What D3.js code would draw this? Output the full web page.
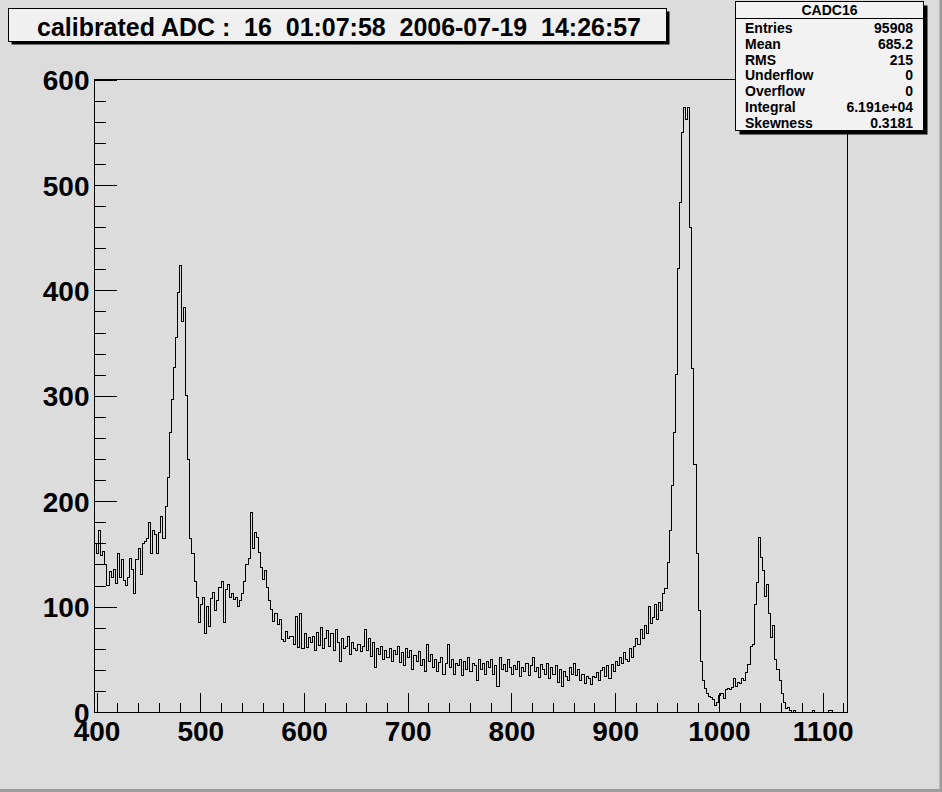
<!DOCTYPE html>
<html>
<head>
<meta charset="utf-8">
<script src="https://cdn.jsdelivr.net/npm/d3@7"></script>
<style>
  html, body { margin: 0; padding: 0; background: #dcdcdc; }
  svg { display: block; }
  text { font-family: "Liberation Sans", Arial, Helvetica, sans-serif; font-weight: bold; fill: #000; }
</style>
</head>
<body>
<svg id="chart" width="942" height="792"></svg>
<script>
// ---------------- data ----------------
const binStart = 398;
const binWidth = 2;
const counts = [
  160,150,172,148,152,140,120,133,128,135,122,150,128,145,125,120,128,146,135,112,
  145,155,130,160,162,165,180,150,172,168,150,170,185,165,195,222,265,296,327,355,
  398,424,370,384,300,240,165,150,124,109,85,102,109,74,100,81,108,113,96,106,
  118,124,85,116,121,109,112,107,109,100,106,112,124,140,146,189,155,170,166,151,
  137,126,134,118,106,97,86,93,83,88,69,67,76,70,72,72,64,91,61,93,
  60,74,61,71,66,72,58,75,63,80,60,70,77,62,74,58,78,66,48,70,
  60,62,72,55,66,60,58,64,57,62,78,58,70,53,66,42,60,55,62,50,
  58,52,60,48,58,55,62,47,56,44,60,52,58,40,54,48,57,44,50,38,
  64,48,55,42,50,38,47,52,36,46,64,42,50,36,46,44,50,35,48,40,
  52,38,46,44,30,50,40,46,36,48,42,50,36,44,24,52,40,45,38,50,
  42,36,44,40,48,34,42,38,46,35,44,52,38,42,33,45,40,36,46,32,
  42,36,44,28,40,24,38,34,30,42,36,46,35,40,30,36,27,34,32,26,
  34,33,37,30,39,42,34,44,32,45,38,48,44,52,46,56,50,48,60,52,
  62,70,64,78,70,82,74,100,84,90,102,88,104,96,112,117,142,172,215,265,
  320,421,483,550,573,562,573,460,326,235,150,96,48,30,22,18,15,14,12,6,
  9,16,18,13,21,22,21,23,32,24,28,27,32,30,37,45,62,64,102,123,
  166,147,134,110,121,93,71,82,50,40,30,18,9,3,4,1,0,1,0,0,
  0,0,0,0,0,0,1,0,0,0,0,0,0,0,1,1,0,0,0,0,0,0,0
];
const xDomain = [398, 1124];
const yDomain = [0, 600];
const xMajorTicks = [400, 500, 600, 700, 800, 900, 1000, 1100];
const xMinorTicks = d3.range(400, 1121, 20);
const yMajorTicks = [0, 100, 200, 300, 400, 500, 600];
const yMinorTicks = d3.range(0, 601, 20);
const titleText = "calibrated ADC :  16  01:07:58  2006-07-19  14:26:57";
const statsName = "CADC16";
const statsLabels = ["Entries", "Mean", "RMS", "Underflow", "Overflow", "Integral", "Skewness"];
const statsValues = ["95908", "685.2", "215", "0", "0", "6.191e+04", "0.3181"];

// ---------------- layout ----------------
const W = 942, H = 792;
const frame = { left: 94.5, right: 847.5, top: 79.5, bottom: 712 };
const svg = d3.select("#chart");

// canvas
svg.append("rect").attr("x", 0).attr("y", 0).attr("width", W).attr("height", H).attr("fill", "#dcdcdc");
svg.append("rect").attr("x", W - 2.5).attr("y", 0).attr("width", 2.5).attr("height", H).attr("fill", "#9c9c9c");
svg.append("rect").attr("x", 0).attr("y", H - 3).attr("width", W).attr("height", 3).attr("fill", "#9c9c9c");

const x = d3.scaleLinear().domain(xDomain).range([frame.left, frame.right]);
const y = d3.scaleLinear().domain(yDomain).range([frame.bottom, frame.top]);

// frame
svg.append("rect")
  .attr("x", frame.left).attr("y", frame.top)
  .attr("width", frame.right - frame.left).attr("height", frame.bottom - frame.top)
  .attr("fill", "#dcdcdc").attr("stroke", "#000").attr("stroke-width", 1)
  .attr("shape-rendering", "crispEdges");

// histogram
const pts = counts.map((c, i) => [binStart + i * binWidth, c]);
pts.push([binStart + counts.length * binWidth, counts[counts.length - 1]]);
const line = d3.line().x(d => x(d[0])).y(d => y(d[1])).curve(d3.curveStepAfter);
svg.append("path").attr("d", line(pts))
  .attr("fill", "none").attr("stroke", "#000").attr("stroke-width", 1)
  .attr("shape-rendering", "crispEdges");

// axes
function styleAxis(g) {
  g.select(".domain").remove();
  g.selectAll(".tick line").attr("stroke", "#000").attr("shape-rendering", "crispEdges");
}
const gxMinor = svg.append("g").attr("transform", `translate(0,${frame.bottom})`)
  .call(d3.axisBottom(x).tickValues(xMinorTicks).tickSizeInner(-9).tickSizeOuter(0).tickFormat(""));
styleAxis(gxMinor);
const gx = svg.append("g").attr("transform", `translate(0,${frame.bottom})`)
  .call(d3.axisBottom(x).tickValues(xMajorTicks).tickSizeInner(-19).tickSizeOuter(0).tickPadding(7).tickFormat(d3.format("d")));
styleAxis(gx);
gx.selectAll(".tick text").attr("font-size", "28px").attr("font-family", null).attr("dy", "0.71em").attr("y", 9);

const gyMinor = svg.append("g").attr("transform", `translate(${frame.left},0)`)
  .call(d3.axisLeft(y).tickValues(yMinorTicks).tickSizeInner(-11.5).tickSizeOuter(0).tickFormat(""));
styleAxis(gyMinor);
const gy = svg.append("g").attr("transform", `translate(${frame.left},0)`)
  .call(d3.axisLeft(y).tickValues(yMajorTicks).tickSizeInner(-22).tickSizeOuter(0).tickPadding(5).tickFormat(d3.format("d")));
styleAxis(gy);
gy.selectAll(".tick text").attr("font-size", "28px").attr("font-family", null).attr("x", -5).attr("dy", "0.36em");

// title box
const tb = { x: 8.5, y: 8.5, w: 658, h: 33 };
svg.append("rect").attr("x", tb.x + 3).attr("y", tb.y + 3).attr("width", tb.w).attr("height", tb.h).attr("fill", "#000");
svg.append("rect").attr("x", tb.x).attr("y", tb.y).attr("width", tb.w).attr("height", tb.h)
  .attr("fill", "#f0f0f0").attr("stroke", "#000").attr("stroke-width", 1).attr("shape-rendering", "crispEdges");
svg.append("text").attr("x", 339).attr("y", 36)
  .attr("text-anchor", "middle").attr("font-size", "26.5px")
  .attr("xml:space", "preserve").style("white-space", "pre")
  .attr("textLength", 604).attr("lengthAdjust", "spacingAndGlyphs")
  .text(titleText);

// stats box
const sb = { x: 735.5, y: 1.5, w: 188, h: 129 };
svg.append("rect").attr("x", sb.x + 4).attr("y", sb.y + 4).attr("width", sb.w).attr("height", sb.h).attr("fill", "#000");
svg.append("rect").attr("x", sb.x).attr("y", sb.y).attr("width", sb.w).attr("height", sb.h)
  .attr("fill", "#f2f2f2").attr("stroke", "#000").attr("stroke-width", 1).attr("shape-rendering", "crispEdges");
svg.append("line").attr("x1", sb.x).attr("x2", sb.x + sb.w).attr("y1", 18.5).attr("y2", 18.5)
  .attr("stroke", "#000").attr("shape-rendering", "crispEdges");
svg.append("text").attr("x", sb.x + sb.w / 2).attr("y", 15).attr("text-anchor", "middle")
  .attr("font-size", "14px").text(statsName);
const rowY = d3.scaleLinear().domain([0, statsLabels.length - 1]).range([28, 122.8]);
svg.append("g").selectAll("text").data(statsLabels).join("text")
  .attr("x", 745).attr("y", (d, i) => rowY(i)).attr("dy", "0.36em")
  .attr("font-size", "14px").text(d => d);
svg.append("g").selectAll("text").data(statsValues).join("text")
  .attr("x", 913).attr("y", (d, i) => rowY(i)).attr("dy", "0.36em").attr("text-anchor", "end")
  .attr("font-size", "14px").text(d => d);
</script>
</body>
</html>
